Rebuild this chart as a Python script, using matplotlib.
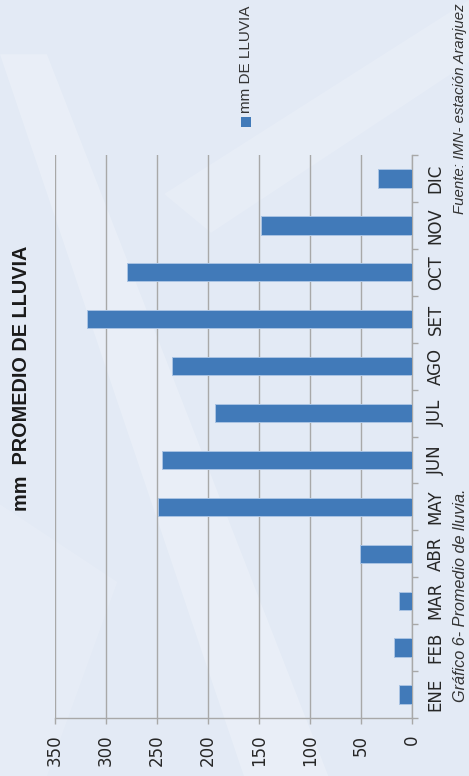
import matplotlib
matplotlib.use("Agg")
import matplotlib.pyplot as plt
from matplotlib.patches import Rectangle, Polygon

# Average monthly rainfall (mm)
months = ["ENE", "FEB", "MAR", "ABR", "MAY", "JUN", "JUL", "AGO", "SET", "OCT", "NOV", "DIC"]
rain_mm = [12, 17, 12, 51, 249, 245, 193, 235, 319, 279, 148, 33]
value_ticks = [0, 50, 100, 150, 200, 250, 300, 350]

title = "mm  PROMEDIO DE LLUVIA"
series_name = "mm DE LLUVIA"
caption = "Gráfico 6- Promedio de lluvia."
source = "Fuente: IMN- estación Aranjuez"

bar_color = "#417AB9"
grid_color = "#A8A8A8"
bg_color = "#E3EAF5"

W, H = 469, 776
fig = plt.figure(figsize=(W / 100, H / 100), dpi=100, facecolor=bg_color)

# page background with faint diagonal light streaks
bg = fig.add_axes([0, 0, 1, 1], zorder=-10)
bg.set_xlim(0, 1)
bg.set_ylim(0, 1)
bg.axis("off")
for pts, a in [
    ([(0.0, 0.93), (0.10, 0.93), (0.70, 0.0), (0.52, 0.0)], 0.22),
    ([(0.35, 0.75), (1.0, 1.0), (1.0, 0.92), (0.45, 0.70)], 0.15),
    ([(0.0, 0.35), (0.25, 0.25), (0.1, 0.0), (0.0, 0.0)], 0.12),
]:
    bg.add_patch(Polygon(pts, closed=True, facecolor="white", alpha=a, lw=0))

ax = fig.add_axes([55 / W, 1 - 718 / H, (411.5 - 55) / W, (718 - 155) / H])
ax.set_facecolor("none")

ypos = list(range(len(months)))
ax.barh(ypos, rain_mm, height=0.39, color=bar_color, edgecolor="#A9C3E3",
        linewidth=0.7, zorder=3)

ax.set_xlim(350, 0)
ax.set_ylim(-0.5, len(months) - 0.5)

ax.set_xticks(value_ticks)
ax.set_xticklabels([str(v) for v in value_ticks])
ax.grid(axis="x", color=grid_color, linewidth=1.0, zorder=0)

ax.yaxis.tick_right()
ax.set_yticks(ypos)
ax.set_yticklabels(months)
ax.set_yticks([i - 0.5 for i in range(len(months) + 1)], minor=True)

for s in ["top", "left"]:
    ax.spines[s].set_visible(False)
for s in ["bottom", "right"]:
    ax.spines[s].set_color(grid_color)
    ax.spines[s].set_linewidth(1.0)

tick_font = dict(family=["Liberation Sans Narrow", "DejaVu Sans"], size=12, color="#262626")
for lab in ax.get_xticklabels():
    lab.set_rotation(90)
    lab.set(**tick_font)
    lab.set_va("top")
    lab.set_ha("center")
for lab in ax.get_yticklabels():
    lab.set_rotation(90)
    lab.set(**tick_font)
    lab.set_va("center")
    lab.set_ha("left")

ax.tick_params(axis="x", which="major", length=4, width=1, color=grid_color, pad=8)
ax.tick_params(axis="y", which="major", length=0, pad=11)
ax.tick_params(axis="y", which="minor", length=4, width=1, color=grid_color)

# rotated title
fig.text(22 / W, 1 - 378 / H, title, rotation=90, ha="center", va="center",
         fontsize=14.3, fontweight="bold", family="Liberation Sans", color="#1a1a1a")

# legend key and label
fig.patches.append(Rectangle((241 / W, 1 - 127 / H), 10 / W, 10 / H,
                             transform=fig.transFigure, facecolor=bar_color,
                             edgecolor="none"))
fig.text(246 / W, 1 - 113 / H, series_name, rotation=90, ha="center", va="bottom",
         fontsize=11, family="Liberation Sans", color="#333333")

# caption and source notes
fig.text(460 / W, 1 - 702 / H, caption, rotation=90, ha="center", va="bottom",
         fontsize=11.7, style="italic", family="Liberation Sans", color="#333333")
fig.text(460 / W, 1 - 214 / H, source, rotation=90, ha="center", va="bottom",
         fontsize=10.8, style="italic", family="Liberation Sans", color="#333333")

fig.savefig("out.png", dpi=100, facecolor=bg_color)
